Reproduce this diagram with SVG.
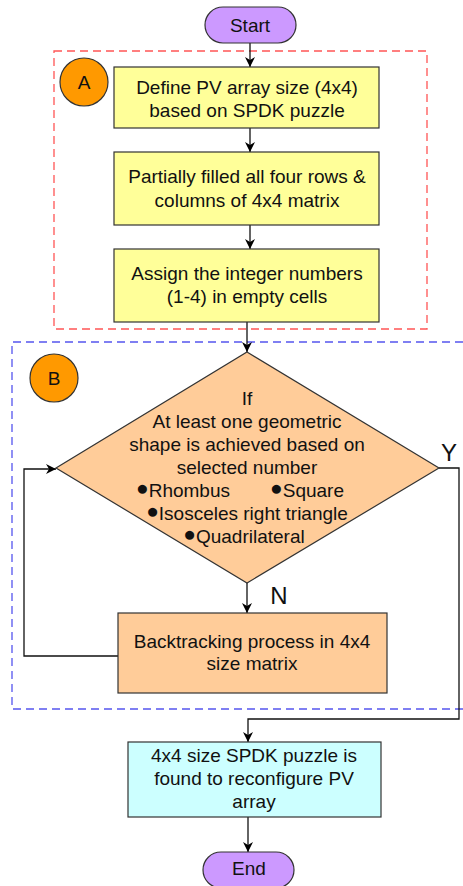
<svg xmlns="http://www.w3.org/2000/svg" width="463" height="886" viewBox="0 0 463 886">
  <defs>
    <marker id="arrow" viewBox="0 0 10 10" refX="10" refY="5" markerWidth="10" markerHeight="10" markerUnits="userSpaceOnUse" orient="auto">
      <path d="M0,0 L10,5 L0,10 L3,5 z" fill="#000"/>
    </marker>
  </defs>
  <style>
    text { font-family: "Liberation Sans", Arial, sans-serif; font-size: 19px; fill: #111; text-anchor: middle; }
    .box { stroke: #333; stroke-width: 1.2; }
    .term { fill: #CC99FF; stroke: #333; stroke-width: 1.2; }
    .yellow { fill: #FFFF99; }
    .peach { fill: #FFCC99; }
    .cyan { fill: #CCFFFF; }
    .badge { fill: #FF9900; stroke: #333; stroke-width: 1.2; }
    .conn { fill: none; stroke: #111; stroke-width: 1.3; }
    .arr { marker-end: url(#arrow); }
    .label { font-size: 24px; }
    .dot { font-size: 21px; }
  </style>

  <!-- group frames -->
  <g id="frame-a">
    <rect x="54" y="51" width="373" height="278" fill="none" stroke="#FF5555" stroke-width="1.3" stroke-dasharray="8,5"/>
  </g>
  <g id="frame-b">
    <path d="M463,342 H12 V709 H463" fill="none" stroke="#5555EE" stroke-width="1.3" stroke-dasharray="8,5"/>
  </g>

  <!-- connectors -->
  <g id="connectors">
    <path class="conn arr" d="M250,43 V67"/>
    <path class="conn arr" d="M250,128 V152"/>
    <path class="conn arr" d="M250,225 V249"/>
    <path class="conn arr" d="M247,322 V352"/>
    <path class="conn arr" d="M247,583 V613"/>
    <path class="conn arr" d="M118,656 H24 V469 H56"/>
    <path class="conn arr" d="M439,468 H459 V719 H248 V742"/>
    <path class="conn arr" d="M248,817 V852"/>
  </g>

  <g id="start">
    <rect class="term" x="205" y="7" width="91" height="36" rx="18"/>
    <text x="250" y="32">Start</text>
  </g>

  <g id="badge-a">
    <circle class="badge" cx="84" cy="82" r="24"/>
    <text x="84" y="89">A</text>
  </g>

  <g id="define-array">
    <rect class="box yellow" x="114" y="67" width="265" height="61"/>
    <text x="247" y="94">Define PV array size (4x4)</text>
    <text x="247" y="117">based on SPDK puzzle</text>
  </g>

  <g id="partial-fill">
    <rect class="box yellow" x="114" y="152" width="265" height="73"/>
    <text x="247" y="183">Partially filled all four rows &amp;</text>
    <text x="247" y="207">columns of 4x4 matrix</text>
  </g>

  <g id="assign-numbers">
    <rect class="box yellow" x="114" y="249" width="265" height="73"/>
    <text x="247" y="280">Assign the integer numbers</text>
    <text x="247" y="303">(1-4) in empty cells</text>
  </g>

  <g id="badge-b">
    <circle class="badge" cx="54" cy="378" r="24"/>
    <text x="54" y="385">B</text>
  </g>

  <g id="shape-check">
    <polygon class="box peach" points="247,352 439,468 247,583 56,468"/>
    <text x="247" y="405">If</text>
    <text x="247" y="428">At least one geometric</text>
    <text x="247" y="451">shape is achieved based on</text>
    <text x="247" y="474">selected number</text>
    <text x="183" y="497"><tspan class="dot" dy="-2">●</tspan><tspan dy="2">Rhombus</tspan></text>
    <text x="307" y="497"><tspan class="dot" dy="-2">●</tspan><tspan dy="2">Square</tspan></text>
    <text x="247" y="520"><tspan class="dot" dy="-2">●</tspan><tspan dy="2">Isosceles right triangle</tspan></text>
    <text x="244" y="543"><tspan class="dot" dy="-2">●</tspan><tspan dy="2">Quadrilateral</tspan></text>
  </g>

  <g id="label-y">
    <text class="label" x="449" y="461">Y</text>
  </g>
  <g id="label-n">
    <text class="label" x="279" y="604">N</text>
  </g>

  <g id="backtracking">
    <rect class="box peach" x="118" y="613" width="269" height="80"/>
    <text x="252" y="648">Backtracking process in 4x4</text>
    <text x="252" y="670">size matrix</text>
  </g>

  <g id="puzzle-found">
    <rect class="box cyan" x="128" y="742" width="253" height="75"/>
    <text x="254" y="762">4x4 size SPDK puzzle is</text>
    <text x="254" y="785">found to reconfigure PV</text>
    <text x="254" y="808">array</text>
  </g>

  <g id="end">
    <rect class="term" x="203" y="852" width="91" height="36" rx="18"/>
    <text x="249" y="875">End</text>
  </g>
</svg>
